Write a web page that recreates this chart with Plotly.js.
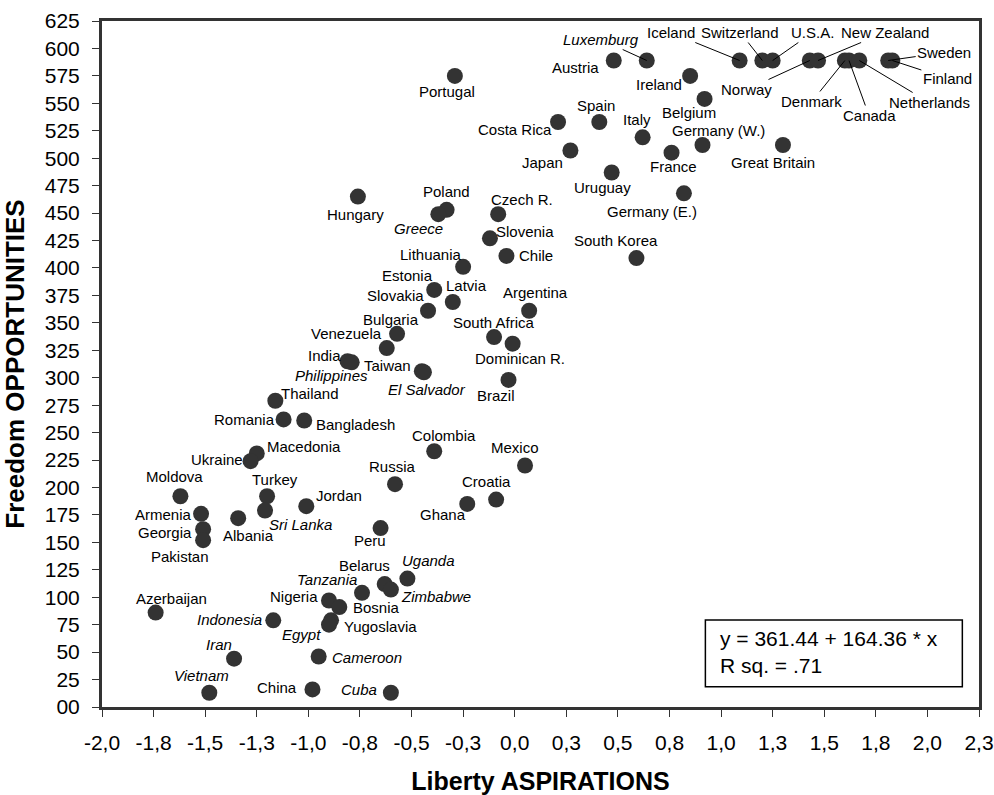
<!DOCTYPE html>
<html>
<head>
<meta charset="utf-8">
<script src="https://cdn.plot.ly/plotly-3.0.1.min.js"></script>
<style>html,body{margin:0;padding:0;background:#fff;}#chart{width:994px;height:795px;}</style>
</head>
<body>
<div id="chart"></div>
<script>
// ---- DATA ----
const countries = ["Austria","Luxemburg","Iceland","Switzerland","U.S.A.","Norway","New Zealand","Denmark","Canada","Netherlands","Sweden","Finland",
"Portugal","Ireland","Belgium","Costa Rica","Spain","Italy","Germany (W.)","Great Britain","Japan","France","Uruguay","Germany (E.)","South Korea",
"Hungary","Poland","Greece","Czech R.","Slovenia","Chile","Lithuania","Estonia","Latvia","Slovakia","Argentina","Bulgaria","Venezuela","India","Philippines",
"Taiwan","El Salvador","South Africa","Dominican R.","Brazil","Thailand","Romania","Bangladesh","Macedonia","Ukraine","Colombia","Mexico","Russia",
"Moldova","Turkey","Croatia","Jordan","Armenia","Ghana","Sri Lanka","Georgia","Albania","Peru","Pakistan","Uganda","Belarus","Tanzania","Zimbabwe",
"Nigeria","Bosnia","Azerbaijan","Indonesia","Yugoslavia","Egypt","Iran","Cameroon","Vietnam","China","Cuba"];
const liberty = [0.48,0.64,1.09,1.20,1.25,1.43,1.47,1.60,1.62,1.67,1.81,1.83,
-0.29,0.85,0.92,0.21,0.41,0.62,0.91,1.30,0.27,0.76,0.47,0.82,0.59,
-0.76,-0.33,-0.37,-0.08,-0.12,-0.04,-0.25,-0.39,-0.30,-0.42,0.07,-0.57,-0.62,-0.81,-0.79,
-0.45,-0.44,-0.10,-0.01,-0.03,-1.16,-1.12,-1.02,-1.25,-1.28,-0.39,0.05,-0.58,
-1.62,-1.20,-0.09,-1.01,-1.52,-0.23,-1.21,-1.51,-1.34,-0.65,-1.51,-0.52,-0.63,-0.74,-0.60,
-0.90,-0.85,-1.74,-1.17,-0.89,-0.90,-1.36,-0.95,-1.48,-0.98,-0.60];
const freedom = [589,589,589,589,589,589,589,589,589,589,589,589,
575,575,554,533,533,519,512,512,507,505,487,468,409,
465,453,449,449,427,411,401,380,369,361,361,340,327,315,314,
306,305,337,331,298,279,262,261,231,224,233,220,203,
192,192,189,183,176,185,179,162,172,163,152,117,112,104,107,
97,91,86,79,79,75,44,46,13,16,13];
const italicCountries = ["Luxemburg","Greece","Philippines","El Salvador","Sri Lanka","Uganda","Tanzania","Zimbabwe","Indonesia","Egypt","Iran","Cameroon","Vietnam","Cuba"];
const xTickVals = [-2,-1.75,-1.5,-1.25,-1,-0.75,-0.5,-0.25,0,0.25,0.5,0.75,1,1.25,1.5,1.75,2,2.25];
const xTickText = ["-2,0","-1,8","-1,5","-1,3","-1,0","-0,8","-0,5","-0,3","0,0","0,3","0,5","0,8","1,0","1,3","1,5","1,8","2,0","2,3"];
const yTickVals = [0,25,50,75,100,125,150,175,200,225,250,275,300,325,350,375,400,425,450,475,500,525,550,575,600,625];
const yTickText = ["00","25","50","75","100","125","150","175","200","225","250","275","300","325","350","375","400","425","450","475","500","525","550","575","600","625"];
const fitIntercept = "361.44", fitSlope = "164.36", fitRsq = ".71";

// ---- LABEL PLACEMENT (pixel offsets of label centre from dot, y down) ----
const labelOffset = {
 "Austria":[-38,7],"Portugal":[-8,16],"Ireland":[-31,9],"Belgium":[-16,14],"Costa Rica":[-43,8],"Spain":[-3,-16],
 "Italy":[-6,-18],"Germany (W.)":[16,-15],"Great Britain":[-10,17],"Japan":[-28,12],"France":[2,14],"Uruguay":[-9,15],
 "Germany (E.)":[-32,18],"South Korea":[-20,-18],"Hungary":[-2,18],"Poland":[0,-18],"Greece":[-20,14],"Czech R.":[24,-15],
 "Slovenia":[35,-7],"Chile":[30,0],"Lithuania":[-32,-12],"Estonia":[-27,-14],"Latvia":[14,-16],"Slovakia":[-33,-15],
 "Argentina":[6,-18],"Bulgaria":[-6,-14],"South Africa":[0,-15],"Venezuela":[-40,-15],"India":[-23,-6],"Philippines":[-20,13],
 "Taiwan":[-34,-6],"El Salvador":[3,17],"Dominican R.":[7,15],"Brazil":[-13,16],"Thailand":[35,-7],"Romania":[-39,0],
 "Bangladesh":[51,4],"Macedonia":[47,-7],"Ukraine":[-34,-2],"Colombia":[10,-16],"Mexico":[-10,-18],"Russia":[-3,-18],
 "Moldova":[-6,-20],"Turkey":[8,-17],"Croatia":[-10,-18],"Jordan":[33,-11],"Armenia":[-38,1],"Ghana":[-24,11],
 "Sri Lanka":[35,14],"Georgia":[-38,3],"Albania":[10,17],"Peru":[-11,12],"Pakistan":[-23,16],"Uganda":[21,-18],
 "Belarus":[-20,-19],"Tanzania":[-35,-13],"Zimbabwe":[45,7],"Nigeria":[-35,-4],"Bosnia":[37,0],"Azerbaijan":[16,-14],
 "Indonesia":[-44,-1],"Yugoslavia":[49,6],"Egypt":[-27,10],"Iran":[-15,-14],"Cameroon":[48,1],"Vietnam":[-8,-17],
 "China":[-35,-2],"Cuba":[-32,-3]
};
// labels joined to their dot by a leader line
const leaderOffset = {
 "Luxemburg":[-46,-21],"Iceland":[-69,-28],"Switzerland":[-22,-28],"U.S.A.":[40,-28],"New Zealand":[67,-28],
 "Norway":[-63,29],"Denmark":[-33,41],"Canada":[20,55],"Netherlands":[70,42],"Sweden":[56,-8],"Finland":[55,18]
};

const FONT = "Liberation Sans, Arial, Helvetica, sans-serif";

const annotations = [];
countries.forEach((c, i) => {
  const txt = italicCountries.includes(c) ? "<i>" + c + "</i>" : c;
  if (leaderOffset[c]) {
    annotations.push({x: liberty[i], y: freedom[i], xref: "x", yref: "y", text: txt,
      showarrow: true, arrowhead: 0, arrowwidth: 1, arrowcolor: "#000", standoff: 0,
      ax: leaderOffset[c][0], ay: leaderOffset[c][1], xanchor: "center", yanchor: "middle",
      font: {family: FONT, size: 15, color: "#000"}});
  } else {
    const o = labelOffset[c] || [0, -18];
    annotations.push({x: liberty[i], y: freedom[i], xref: "x", yref: "y", text: txt,
      showarrow: false, xshift: o[0], yshift: -o[1], xanchor: "center", yanchor: "middle",
      font: {family: FONT, size: 15, color: "#000"}});
  }
});
annotations.push({xref: "paper", yref: "paper", x: 0.7027, y: 0.0795, xanchor: "left", yanchor: "middle",
  align: "left", showarrow: false,
  text: "y = " + fitIntercept + " + " + fitSlope + " * x<br>R sq. = " + fitRsq,
  font: {family: FONT, size: 21, color: "#000"}});

const trace = {
  type: "scatter", mode: "markers", x: liberty, y: freedom, text: countries,
  marker: {size: 16, color: "#333333", line: {width: 0}},
  hoverinfo: "text", cliponaxis: false
};

const layout = {
  width: 994, height: 795,
  margin: {l: 102, r: 15, t: 21, b: 88},
  paper_bgcolor: "#fff", plot_bgcolor: "#fff",
  showlegend: false,
  font: {family: FONT, color: "#000"},
  xaxis: {
    range: [-2, 2.25], tickvals: xTickVals, ticktext: xTickText,
    showgrid: false, zeroline: false, showline: true, linewidth: 3, linecolor: "#333", mirror: true,
    ticks: "outside", ticklen: 7, tickwidth: 1, tickcolor: "#333", ticklabelstandoff: 8,
    tickfont: {family: FONT, size: 21, color: "#000"},
    title: {text: "<b>Liberty ASPIRATIONS</b>", font: {family: FONT, size: 25, color: "#000"}, standoff: 22}
  },
  yaxis: {
    range: [0, 625], tickvals: yTickVals, ticktext: yTickText,
    showgrid: false, zeroline: false, showline: true, linewidth: 3, linecolor: "#333", mirror: true,
    ticks: "outside", ticklen: 7, tickwidth: 1, tickcolor: "#333", ticklabelstandoff: 8,
    tickfont: {family: FONT, size: 21, color: "#000"},
    title: {text: "<b>Freedom OPPORTUNITIES</b>", font: {family: FONT, size: 26, color: "#000"}, standoff: 14}
  },
  shapes: [{type: "rect", xref: "paper", yref: "paper", x0: 0.688, x1: 0.981, y0: 0.0294, y1: 0.127,
    line: {color: "#000", width: 1.5}, fillcolor: "rgba(255,255,255,0)", layer: "above"}],
  annotations: annotations
};

Plotly.newPlot("chart", [trace], layout, {displayModeBar: false, staticPlot: true});
</script>
</body>
</html>
